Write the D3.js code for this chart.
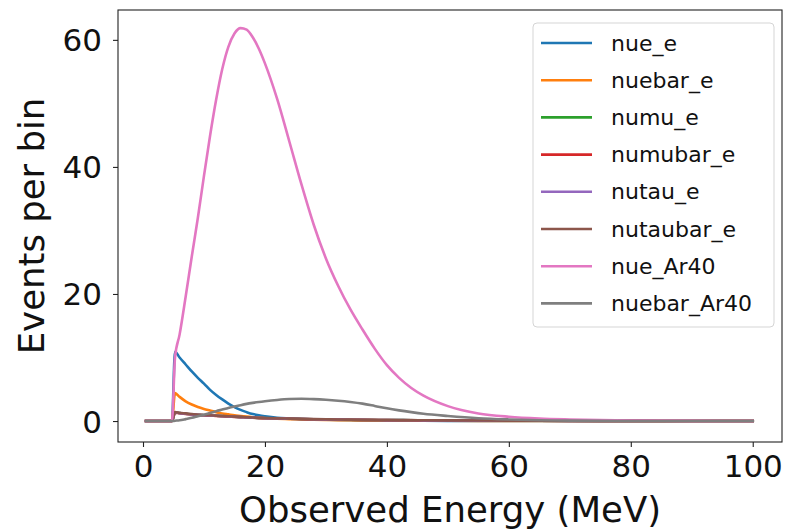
<!DOCTYPE html>
<html>
<head>
<meta charset="utf-8">
<script src="https://cdn.jsdelivr.net/npm/d3@7"></script>
<style>
  body { margin: 0; background: #fff; }
  svg { display: block; font-family: "DejaVu Sans", sans-serif; }
  .axis path { display: none; }
  .axis line { stroke: #222; stroke-width: 1.1; }
  .axis text { fill: #111; font-size: 31px; font-family: "DejaVu Sans", sans-serif; }
  .axis-title { fill: #111; font-size: 35.5px; }
  .legend text { fill: #111; font-size: 22px; }
</style>
</head>
<body>
<div class="graph-container"></div>
<script>
// Observed energy (MeV) sample points
const energy = [0.5, 4.75, 5.25, 6, 7, 8, 9, 10, 11, 12, 13, 14, 15, 16, 17, 18, 19, 20,
                22, 24, 26, 28, 30, 32, 34, 36, 38, 40, 42, 44, 46, 50, 55, 60, 65, 70, 80, 90, 100];

const nueE = [0, 0, 10.9, 10.0, 8.9, 7.8, 6.8, 5.9, 4.9, 4.1, 3.4, 2.75, 2.2, 1.75, 1.4, 1.1, 0.9, 0.75,
              0.52, 0.4, 0.3, 0.25, 0.2, 0.16, 0.13, 0.11, 0.09, 0.07, 0.06, 0.05, 0.04, 0.03, 0.02, 0.01, 0.01, 0, 0, 0, 0];
const nuebarE = [0, 0, 4.4, 3.8, 3.1, 2.6, 2.2, 1.9, 1.65, 1.4, 1.2, 1.05, 0.9, 0.8, 0.7, 0.6, 0.5, 0.45,
                 0.35, 0.3, 0.25, 0.2, 0.17, 0.14, 0.12, 0.1, 0.09, 0.08, 0.07, 0.06, 0.05, 0.04, 0.03, 0.02, 0.01, 0.01, 0, 0, 0];
const numuE = [0, 0, 1.35, 1.25, 1.15, 1.05, 0.97, 0.92, 0.87, 0.82, 0.77, 0.72, 0.67, 0.62, 0.58, 0.53, 0.49, 0.46,
               0.41, 0.37, 0.33, 0.29, 0.26, 0.23, 0.21, 0.19, 0.17, 0.15, 0.14, 0.13, 0.11, 0.09, 0.07, 0.05, 0.04, 0.03, 0.02, 0.01, 0.01];
const numubarE = [0, 0, 1.3, 1.22, 1.12, 1.03, 0.95, 0.9, 0.85, 0.8, 0.75, 0.7, 0.66, 0.61, 0.57, 0.52, 0.48, 0.45,
                  0.4, 0.36, 0.32, 0.28, 0.25, 0.22, 0.2, 0.18, 0.16, 0.14, 0.13, 0.12, 0.1, 0.08, 0.06, 0.05, 0.04, 0.03, 0.02, 0.01, 0.01];
const nutauE = [0, 0, 1.35, 1.25, 1.15, 1.05, 0.97, 0.92, 0.87, 0.82, 0.77, 0.72, 0.67, 0.62, 0.58, 0.53, 0.49, 0.46,
                0.41, 0.37, 0.33, 0.29, 0.26, 0.23, 0.21, 0.19, 0.17, 0.15, 0.14, 0.13, 0.11, 0.09, 0.07, 0.05, 0.04, 0.03, 0.02, 0.01, 0.01];
const nutaubarE = [0, 0, 1.4, 1.3, 1.2, 1.1, 1.0, 0.95, 0.9, 0.85, 0.8, 0.75, 0.7, 0.65, 0.6, 0.55, 0.5, 0.47,
                   0.42, 0.38, 0.34, 0.3, 0.27, 0.24, 0.22, 0.2, 0.18, 0.16, 0.15, 0.14, 0.12, 0.1, 0.08, 0.06, 0.05, 0.04, 0.02, 0.01, 0.01];
const nueAr40 = [0, 0, 10.0, 13.6, 19.6, 25.9, 32.0, 38.6, 44.9, 50.6, 55.4, 58.9, 61.0, 61.85, 61.6, 60.4, 58.6, 56.3,
                 50.7, 44.0, 37.2, 30.9, 25.6, 21.3, 17.6, 14.4, 11.4, 8.8, 6.8, 5.2, 4.0, 2.35, 1.2, 0.68, 0.4, 0.25, 0.08, 0.03, 0.01];
const nuebarAr40 = [0, 0, 0.05, 0.12, 0.3, 0.5, 0.75, 1.0, 1.28, 1.55, 1.8, 2.05, 2.28, 2.5, 2.7, 2.86, 3.0, 3.12,
                    3.32, 3.46, 3.5, 3.45, 3.35, 3.2, 3.0, 2.74, 2.38, 2.0, 1.68, 1.4, 1.15, 0.8, 0.45, 0.25, 0.12, 0.06, 0.01, 0, 0];

const labels = ["nue_e", "nuebar_e", "numu_e", "numubar_e", "nutau_e", "nutaubar_e", "nue_Ar40", "nuebar_Ar40"];
const seriesValues = [nueE, nuebarE, numuE, numubarE, nutauE, nutaubarE, nueAr40, nuebarAr40];
const colors = ["#1f77b4", "#ff7f0e", "#2ca02c", "#d62728", "#9467bd", "#8c564b", "#e377c2", "#7f7f7f"];
const xTicks = [0, 20, 40, 60, 80, 100];
const yTicks = [0, 20, 40, 60];

const width = 788, height = 529;
const plot = { left: 118, top: 10, right: 782, bottom: 442 };

const svg = d3.select(".graph-container")
              .append("svg")
              .attr("width", width)
              .attr("height", height);

const xScale = d3.scaleLinear()
                 .domain([-4.1, 104.8])
                 .range([plot.left, plot.right]);

const yScale = d3.scaleLinear()
                 .domain([-3.3, 64.7])
                 .range([plot.bottom, plot.top]);

// lines
const line = d3.line()
               .x(d => xScale(d[0]))
               .y(d => yScale(d[1]))
               .curve(d3.curveMonotoneX);

const lines = svg.append("g").attr("class", "lines");
seriesValues.forEach((vals, i) => {
  lines.append("path")
       .datum(energy.map((e, j) => [e, vals[j]]))
       .attr("d", line)
       .attr("fill", "none")
       .attr("stroke", colors[i])
       .attr("stroke-width", 2.6)
       .attr("stroke-linejoin", "round")
       .attr("stroke-linecap", "square");
});

// axes
const xAxis = d3.axisBottom(xScale)
                .tickValues(xTicks)
                .tickSize(5)
                .tickPadding(7);

const yAxis = d3.axisLeft(yScale)
                .tickValues(yTicks)
                .tickSize(5)
                .tickPadding(11);

svg.append("g")
   .attr("class", "axis")
   .attr("transform", `translate(0,${plot.bottom})`)
   .call(xAxis);

svg.append("g")
   .attr("class", "axis")
   .attr("transform", `translate(${plot.left},0)`)
   .call(yAxis);

svg.selectAll(".axis .tick text").attr("dy", null);
svg.selectAll(".axis .tick text").each(function() {
  const t = d3.select(this);
  if (t.attr("y") > 0) t.attr("dominant-baseline", "hanging");
  else t.attr("dominant-baseline", "central");
});

// frame
svg.append("rect")
   .attr("x", plot.left)
   .attr("y", plot.top)
   .attr("width", plot.right - plot.left)
   .attr("height", plot.bottom - plot.top)
   .attr("fill", "none")
   .attr("stroke", "#222")
   .attr("stroke-width", 1.1);

// axis titles
svg.append("text")
   .attr("class", "axis-title")
   .attr("x", (plot.left + plot.right) / 2)
   .attr("y", 522)
   .attr("text-anchor", "middle")
   .text("Observed Energy (MeV)");

svg.append("text")
   .attr("class", "axis-title")
   .attr("transform", `translate(44,${(plot.top + plot.bottom) / 2}) rotate(-90)`)
   .attr("text-anchor", "middle")
   .text("Events per bin");

// legend
const legend = svg.append("g")
                  .attr("class", "legend")
                  .attr("transform", "translate(533,23)");

legend.append("rect")
      .attr("width", 241)
      .attr("height", 304)
      .attr("rx", 4)
      .attr("fill", "#fff")
      .attr("fill-opacity", 0.8)
      .attr("stroke", "#d5d5d5");

labels.forEach((name, i) => {
  const row = legend.append("g")
                    .attr("transform", `translate(0,${20 + i * 37.2})`);
  row.append("line")
     .attr("x1", 8).attr("x2", 59)
     .attr("stroke", colors[i])
     .attr("stroke-width", 2.6);
  row.append("text")
     .attr("x", 78)
     .attr("dominant-baseline", "central")
     .text(name);
});
</script>
</body>
</html>
